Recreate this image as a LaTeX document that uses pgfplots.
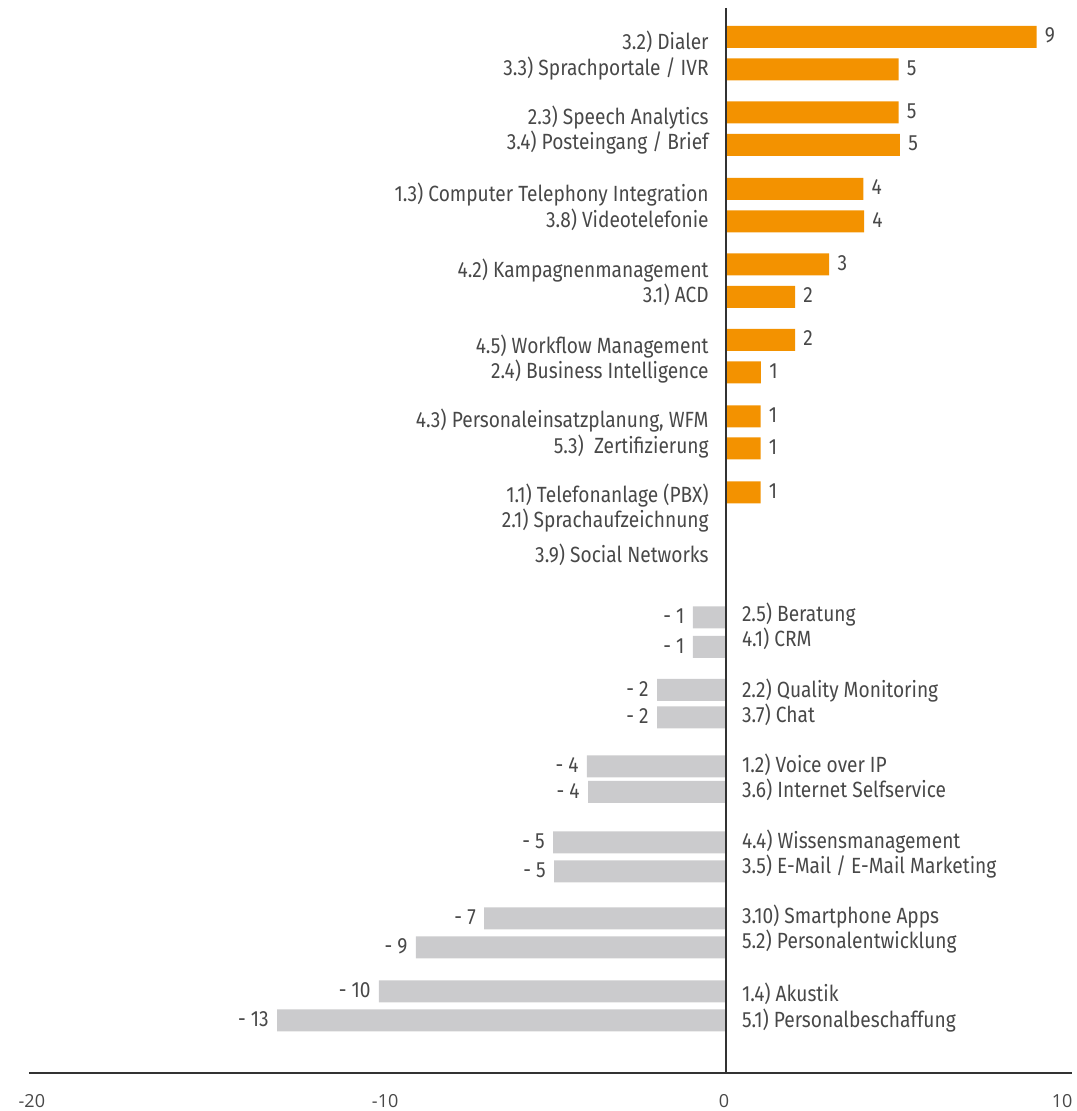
\documentclass[border=0pt]{standalone}
\usepackage{fontspec}
\setmainfont{Fira Sans}[FakeStretch=0.87]
\newfontfamily\tickfont{Open Sans}
\usepackage{pgfplots}
\usepackage{pgfplotstable}
\pgfplotsset{compat=1.18}
\definecolor{barorange}{RGB}{243,146,0}
\definecolor{bargray}{RGB}{203,203,205}
\definecolor{txtgray}{RGB}{72,72,72}
\definecolor{axgray}{RGB}{50,50,50}

\pgfplotstableread[col sep=semicolon]{
y;x;v
-37;9;9
-69.5;5;5
-112.5;5;5
-145;5.04;5
-189;3.98;4
-221.5;4;4
-264.5;2.99;3
-297;2;2
-340;2;2
-372.5;1.01;1
-416.5;1;1
-448.5;1;1
-492.5;1;1
}\posbars

\pgfplotstableread[col sep=semicolon]{
y;x;v
-617.5;-0.96;- 1
-647;-0.96;- 1
-690;-2;- 2
-717.5;-2;- 2
-766.5;-4.03;- 4
-792;-4;- 4
-842.5;-5.01;- 5
-871.5;-4.98;- 5
-918.5;-7.01;- 7
-947.5;-8.99;- 9
-991.5;-10.06;- 10
-1020.5;-13.01;- 13
}\negbars

\pgfplotstableread[col sep=semicolon]{
y;name
-42;3.2) Dialer
-68;3.3) Sprachportale / IVR
-117;2.3) Speech Analytics
-142;3.4) Posteingang / Brief
-194;1.3) Computer Telephony Integration
-219.5;3.8) Videotelefonie
-270;4.2) Kampagnenmanagement
-295;3.1) ACD
-345.5;4.5) Workflow Management
-371;2.4) Business Intelligence
-420;4.3) Personaleinsatzplanung, WFM
-446;5.3)~ Zertifizierung
-495;1.1) Telefonanlage (PBX)
-520;2.1) Sprachaufzeichnung
-555;3.9) Social Networks
}\poslabels

\pgfplotstableread[col sep=semicolon]{
y;name
-613.5;2.5) Beratung
-639;4.1) CRM
-689.5;2.2) Quality Monitoring
-714.5;3.7) Chat
-764.5;1.2) Voice over IP
-789.5;3.6) Internet Selfservice
-840.5;4.4) Wissensmanagement
-865.5;3.5) E-Mail / E-Mail Marketing
-915.5;3.10) Smartphone Apps
-940.5;5.2) Personalentwicklung
-993.5;1.4) Akustik
-1019.5;5.1) Personalbeschaffung
}\neglabels

\begin{document}
\begin{tikzpicture}
\useasboundingbox (0,0) rectangle (538pt,555.5pt);
\begin{axis}[
  at={(14.5pt,19pt)}, anchor=south west,
  scale only axis, width=521.5pt, height=532.5pt,
  xmin=-20.203, xmax=10.029, ymin=-1073, ymax=-8,
  clip=false,
  axis x line=bottom, axis y line=none,
  x axis line style={-, draw=axgray, line width=1.3pt},
  xtick={-20.12,-9.88,-0.06,9.74},
  xticklabels={-20,-10,0,10},
  major tick length=0pt,
  xticklabel style={anchor=center, yshift=-14pt, font=\tickfont\fontsize{9}{10}\selectfont, text=txtgray},
  ytick=\empty,
  every node near coord/.append style={font=\fontsize{11}{13}\selectfont, text=txtgray, inner sep=0pt},
]
% bars
\addplot[xbar, bar shift=0pt, bar width=11pt, fill=barorange, draw=none,
  nodes near coords, point meta=explicit symbolic,
  nodes near coords style={anchor=west, xshift=4pt, yshift=0.8pt}]
  table[x=x, y=y, meta=v]{\posbars};
\addplot[xbar, bar shift=0pt, bar width=11pt, fill=bargray, draw=none,
  nodes near coords, point meta=explicit symbolic,
  nodes near coords style={anchor=east, xshift=-4pt, yshift=0.6pt}]
  table[x=x, y=y, meta=v]{\negbars};
% zero line
\addplot[draw=axgray, line width=1.1pt, mark=none] coordinates {(0,-8) (0,-1073)};
% category labels
\addplot[draw=none, mark=none, nodes near coords, point meta=explicit symbolic,
  nodes near coords style={anchor=base east, xshift=-8.5pt, yshift=-3.8pt}]
  table[x expr=0, y=y, meta=name]{\poslabels};
\addplot[draw=none, mark=none, nodes near coords, point meta=explicit symbolic,
  nodes near coords style={anchor=base west, xshift=7.8pt, yshift=-3.8pt}]
  table[x expr=0, y=y, meta=name]{\neglabels};
\end{axis}
\end{tikzpicture}
\end{document}
